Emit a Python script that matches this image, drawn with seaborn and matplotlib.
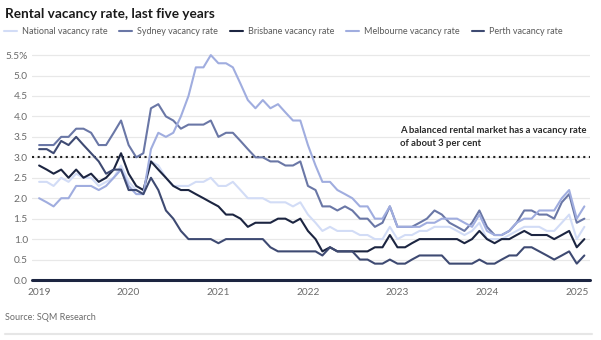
import matplotlib
matplotlib.use("Agg")
import matplotlib.pyplot as plt
from matplotlib.lines import Line2D
import pandas as pd
import seaborn as sns

# Monthly rental vacancy rates (%), January 2019 to February 2025
months = pd.date_range("2019-01-01", periods=74, freq="MS")

national = [2.4, 2.4, 2.3, 2.5, 2.4, 2.6, 2.5, 2.5, 2.3, 2.4, 2.5, 2.8,
            2.4, 2.2, 2.1, 2.9, 2.8, 2.5, 2.3,
            2.3, 2.3, 2.4, 2.4, 2.5, 2.3, 2.3, 2.4, 2.2, 2.0, 2.0, 2.0, 1.9, 1.9,
            1.9, 1.8, 1.9, 1.6, 1.4, 1.2, 1.3, 1.2, 1.2, 1.2, 1.1, 1.1, 1.0,
            1.0, 1.3, 1.0, 1.1, 1.1, 1.2, 1.2, 1.3, 1.3, 1.3, 1.2, 1.1, 1.2, 1.4,
            1.0, 1.0, 1.0, 1.1, 1.2, 1.3, 1.3, 1.3, 1.2, 1.2, 1.4, 1.6, 1.0, 1.3]

sydney = [3.3, 3.3, 3.3, 3.5, 3.5, 3.7, 3.7, 3.6, 3.3, 3.3, 3.6, 3.9,
          3.3, 3.0, 3.1, 4.2, 4.3, 4.0, 3.9,
          3.7, 3.8, 3.8, 3.8, 3.9, 3.5, 3.6, 3.6, 3.4, 3.2, 3.0, 3.0, 2.9, 2.9,
          2.8, 2.8, 2.9, 2.3, 2.2, 1.8, 1.8, 1.7, 1.8, 1.7, 1.5, 1.5, 1.3,
          1.4, 1.8, 1.3, 1.3, 1.3, 1.4, 1.5, 1.7, 1.6, 1.4, 1.3, 1.2, 1.4, 1.7,
          1.3, 1.1, 1.1, 1.2, 1.4, 1.7, 1.7, 1.6, 1.6, 1.5, 1.9, 2.1, 1.4, 1.5]

brisbane = [2.8, 2.7, 2.6, 2.7, 2.5, 2.7, 2.5, 2.6, 2.4, 2.5, 2.7, 3.1,
            2.6, 2.3, 2.2, 2.9, 2.7, 2.5, 2.3,
            2.2, 2.2, 2.1, 2.0, 1.9, 1.8, 1.6, 1.6, 1.5, 1.3, 1.4, 1.4, 1.4, 1.5,
            1.5, 1.4, 1.5, 1.2, 1.0, 0.7, 0.8, 0.7, 0.7, 0.7, 0.7, 0.7, 0.8,
            0.8, 1.1, 0.8, 0.8, 0.9, 1.0, 1.0, 1.0, 1.0, 1.0, 1.0, 0.9, 1.0, 1.2,
            1.0, 0.9, 1.0, 1.0, 1.1, 1.2, 1.1, 1.1, 1.1, 1.0, 1.1, 1.2, 0.8, 1.0]

melbourne = [2.0, 1.9, 1.8, 2.0, 2.0, 2.3, 2.3, 2.3, 2.2, 2.3, 2.5, 2.7,
             2.3, 2.1, 2.1, 3.2, 3.6, 3.5, 3.6,
             4.0, 4.5, 5.2, 5.2, 5.5, 5.3, 5.3, 5.2, 4.8, 4.4, 4.2, 4.4, 4.2, 4.3,
             4.1, 3.9, 3.9, 3.3, 2.8, 2.4, 2.4, 2.2, 2.1, 2.0, 1.8, 1.8, 1.5,
             1.5, 1.8, 1.3, 1.3, 1.3, 1.3, 1.4, 1.4, 1.5, 1.5, 1.5, 1.4, 1.3, 1.6,
             1.2, 1.1, 1.1, 1.2, 1.4, 1.5, 1.5, 1.7, 1.7, 1.7, 2.0, 2.2, 1.5, 1.8]

perth = [3.2, 3.2, 3.1, 3.4, 3.3, 3.5, 3.3, 3.1, 2.9, 2.6, 2.7, 2.7,
         2.2, 2.2, 2.1, 2.5, 2.2, 1.7, 1.5,
         1.2, 1.0, 1.0, 1.0, 1.0, 0.9, 1.0, 1.0, 1.0, 1.0, 1.0, 1.0, 0.8, 0.7,
         0.7, 0.7, 0.7, 0.7, 0.7, 0.6, 0.8, 0.7, 0.7, 0.7, 0.5, 0.5, 0.4,
         0.4, 0.5, 0.4, 0.4, 0.5, 0.6, 0.6, 0.6, 0.6, 0.4, 0.4, 0.4, 0.4, 0.5,
         0.4, 0.4, 0.5, 0.6, 0.6, 0.8, 0.8, 0.7, 0.6, 0.5, 0.6, 0.7, 0.4, 0.6]

series_names = ["National vacancy rate", "Sydney vacancy rate", "Brisbane vacancy rate",
                "Melbourne vacancy rate", "Perth vacancy rate"]
series_colors = ["#d2dcf6", "#6a77a6", "#1c2541", "#a0addf", "#3e4a72"]

y_ticks = [0.0, 0.5, 1.0, 1.5, 2.0, 2.5, 3.0, 3.5, 4.0, 4.5, 5.0, 5.5]
y_labels = ["0.0", "0.5", "1.0", "1.5", "2.0", "2.5", "3.0", "3.5", "4.0", "4.5", "5.0", "5.5%"]
x_years = [2019, 2020, 2021, 2022, 2023, 2024, 2025]

wide = pd.DataFrame(dict(zip(series_names, [national, sydney, brisbane, melbourne, perth])),
                    index=months)
wide.index.name = "month"
df = wide.reset_index().melt(id_vars="month", var_name="series", value_name="rate")

sns.set_theme(style="white")
plt.rcParams["font.family"] = ["Lato", "DejaVu Sans"]

W, H = 601, 340
fig = plt.figure(figsize=(W / 100, H / 100), dpi=100)
ax = fig.add_axes([32 / W, 1 - 280 / H, (590 - 32) / W, (280 - 51) / H])

sns.lineplot(data=df, x="month", y="rate", hue="series", hue_order=series_names,
             palette=series_colors, linewidth=1.5, ax=ax)

ax.set_xlim(pd.Timestamp("2018-12-03"), pd.Timestamp("2025-02-24"))
ax.set_ylim(0, 5.6)
ax.set_yticks(y_ticks)
ax.set_yticklabels(y_labels)
ax.set_xticks([pd.Timestamp(f"{y}-01-01") for y in x_years])
ax.set_xticklabels([str(y) for y in x_years])
ax.set_xlabel("")
ax.set_ylabel("")
ax.tick_params(axis="both", length=0, labelsize=7.3, labelcolor="#6b6b6b")
ax.tick_params(axis="x", pad=6)
ax.tick_params(axis="y", pad=3)
ax.grid(axis="y", color="#e8e8e8", linewidth=0.9)
ax.grid(axis="x", visible=False)
ax.set_axisbelow(True)
for s in ax.spines.values():
    s.set_visible(False)

# baseline and the 3 per cent reference line
ax.axhline(0, color="#1c2541", linewidth=2.2, zorder=5, clip_on=False)
ax.axhline(3.0, color="#222222", linewidth=1.5, linestyle=(0, (1, 1.7)), zorder=1)

fig.text(400 / W, 1 - 126 / H,
         "A balanced rental market has a vacancy rate\nof about 3 per cent",
         ha="left", va="top", fontsize=6.8, fontweight="bold", color="#2a2a2a",
         linespacing=1.5)

sns.move_legend(ax, "upper left", bbox_to_anchor=(4 / W, 1 - 27 / H),
                bbox_transform=fig.transFigure, ncol=5, frameon=False, title=None,
                fontsize=6.5, handlelength=1.4, handletextpad=0.55,
                columnspacing=1.35, borderaxespad=0, borderpad=0)
for t in ax.get_legend().get_texts():
    t.set_color("#5a5a5a")

fig.text(5 / W, 1 - 14 / H, "Rental vacancy rate, last five years",
         ha="left", va="center", fontsize=9.8, fontweight="bold", color="#1a1a1a")
fig.text(5 / W, 1 - 318 / H, "Source: SQM Research",
         ha="left", va="center", fontsize=6.5, color="#6b6b6b")
fig.add_artist(Line2D([5 / W, 592 / W], [1 - 334 / H] * 2,
                      color="#e6e6e6", linewidth=1.5))

fig.savefig("out.png", dpi=100)
